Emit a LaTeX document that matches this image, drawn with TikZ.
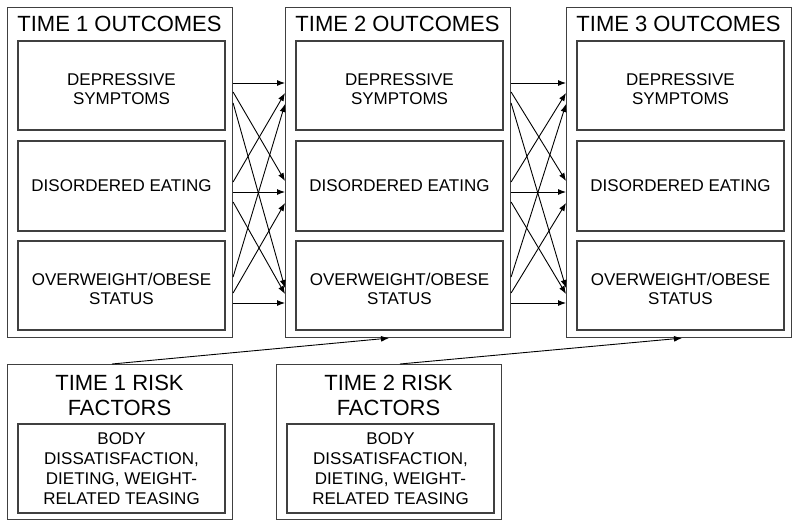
\documentclass[tikz,border=0pt]{standalone}
\usepackage{fontspec}
\setmainfont{Liberation Sans}
\usepackage{xcolor}
\usepackage{tikz}
\usetikzlibrary{calc, arrows.meta}

\newcommand{\topgap}{\rule{0pt}{19pt}}

\begin{document}
\begin{tikzpicture}[x=1pt, y=-1pt]
	\tikzstyle{every node}=[align=center, inner sep=0pt];
	\tikzstyle{frame}=[draw=black!75, line width=1.1pt, anchor=north west, minimum width=225pt];
	\tikzstyle{cell}=[draw=black!75, line width=1.1pt, minimum width=207pt, font=\fontsize{17}{19}\selectfont];
	\tikzstyle{heading}=[font=\fontsize{22}{25}\selectfont];
	\tikzstyle{path}=[black, line width=0.9pt, -{Latex[length=8pt, width=6pt]}];

	\useasboundingbox (0, 0) rectangle (800, 527);

	%Outcome frames
	\node[frame, minimum height=330pt] (t1) at (7, 7) {};
	\node[frame, minimum height=330pt] (t2) at (285, 7) {};
	\node[frame, minimum height=330pt] (t3) at (566, 7) {};
	\node[heading, anchor=base] at (119.5, 32) {TIME 1 OUTCOMES};
	\node[heading, anchor=base] at (397.5, 32) {TIME 2 OUTCOMES};
	\node[heading, anchor=base] at (678.5, 32) {TIME 3 OUTCOMES};

	%Outcome cells
	\foreach \n/\x in {1/121.5, 2/399.5, 3/680.5} {
		\node[cell, minimum height=89pt] (dep\n) at (\x, 85.5) {\topgap DEPRESSIVE\\SYMPTOMS};
		\node[cell, minimum height=90pt] (eat\n) at (\x, 186) {DISORDERED EATING};
		\node[cell, minimum height=89pt] (obe\n) at (\x, 285.5) {\topgap OVERWEIGHT/OBESE\\STATUS};
	}

	%Cross-lagged paths
	\foreach \a/\b in {t1/t2, t2/t3} {
		\foreach \s/\e in {76/76, 85/174, 96/281, 175/86, 185/185, 195/287, 270/97, 286/196, 296/296} {
			\draw[path] ($(\a.north east)+(0, \s)$) -- ($(\b.north west)+(0, \e)$);
		}
	}

	%Risk factor frames
	\node[frame, minimum height=155pt] (r1) at (7, 364) {};
	\node[frame, minimum height=155pt] (r2) at (276, 364) {};
	\node[heading] at (119.5, 395.5) {TIME 1 RISK\\FACTORS};
	\node[heading] at (388.5, 395.5) {TIME 2 RISK\\FACTORS};
	\node[cell, minimum height=89pt, font=\fontsize{17}{20}\selectfont] (risk1) at (121.5, 468.5) {BODY\\DISSATISFACTION,\\DIETING, WEIGHT-\\RELATED TEASING};
	\node[cell, minimum height=89pt, font=\fontsize{17}{20}\selectfont] (risk2) at (390.5, 468.5) {BODY\\DISSATISFACTION,\\DIETING, WEIGHT-\\RELATED TEASING};

	%Risk paths
	\draw[path] ($(r1.north west)+(105, 0)$) -- ($(t2.south west)+(104, 0)$);
	\draw[path] ($(r2.north west)+(124, 0)$) -- ($(t3.south west)+(116, 0)$);
\end{tikzpicture}
\end{document}
